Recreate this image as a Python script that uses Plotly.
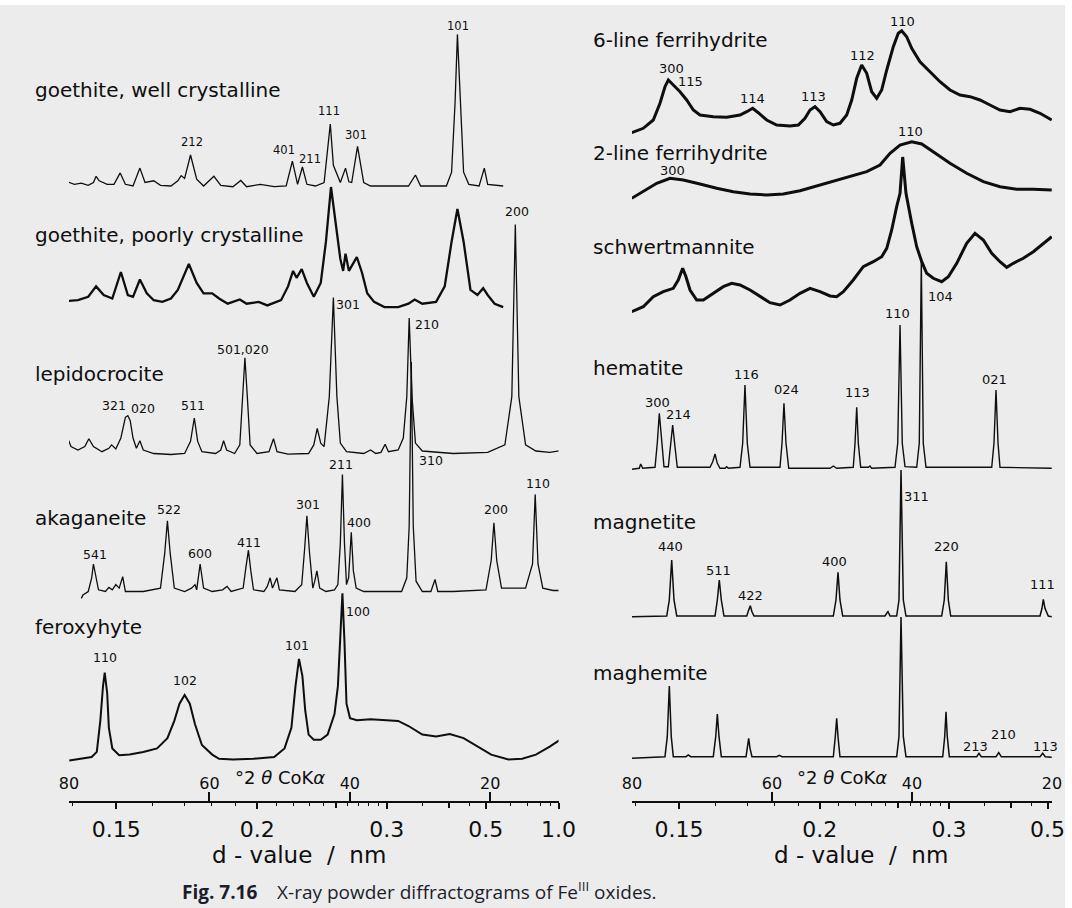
import math
import plotly.graph_objects as go

WAVELENGTH_NM = 0.179026  # Co K-alpha


def two_theta(d):
    return 2 * math.degrees(math.asin(WAVELENGTH_NM / (2 * d)))

# ---------------- data: 2theta (deg) and intensity above each baseline ----------------
goethite_well_tt = [80.21, 79.23, 78.25, 77.27, 76.52, 76.14, 75.70, 75.30, 74.56, 73.59, 72.71, 71.97, 70.88, 69.90, 69.17, 67.93, 66.97, 65.48, 64.50, 64.02, 63.53, 62.69, 61.81, 60.83, 59.36, 58.38, 56.65, 55.53, 54.70, 52.74, 50.77, 49.06, 48.18, 47.44, 46.75, 46.11, 44.89, 43.66, 42.78, 42.34, 41.94, 41.35, 40.61, 40.13, 39.73, 38.90, 38.02, 37.04, 31.64, 30.65, 29.91, 26.24, 25.50, 25.01, 24.67, 24.27, 23.79, 23.05, 21.58, 20.84, 20.36, 18.15]
goethite_well_int = [4.2, 1.7, 2.8, 0.7, 3.5, 9.7, 5.2, 4.2, 1.7, 1.7, 13.1, 1.7, 0, 17.9, 3.5, 5.2, 0.7, 0, 5.2, 10.4, 7.6, 31, 6.9, 0, 9.7, 0.7, -0.7, 5.5, -0.7, 1.7, -0.7, 0, 24.8, 1.7, 19, 1.7, 0, 3.5, 62, 20.7, 13.8, 3.5, 17.9, 4.2, 3.5, 39.6, 3.5, 0, 0, 11, 0, 0, 13.8, 82.7, 151.6, 82.7, 13.8, 1.7, 0, 17.9, 1.7, 0]

goethite_poor_tt = [80.20, 78.73, 77.26, 76.14, 75.06, 73.83, 72.61, 71.62, 70.88, 69.90, 68.92, 67.93, 66.71, 65.48, 64.50, 62.93, 61.81, 60.83, 59.60, 58.62, 57.39, 55.67, 54.70, 52.98, 51.75, 49.79, 48.80, 48.08, 47.58, 46.85, 46.11, 45.13, 44.14, 43.40, 42.68, 41.94, 41.35, 40.95, 40.61, 40.13, 39.73, 39.00, 38.26, 37.52, 36.54, 35.07, 33.11, 31.64, 30.76, 29.67, 27.71, 26.48, 25.50, 24.67, 23.79, 22.81, 21.82, 21.00, 20.36, 19.37, 18.15]
goethite_poor_int = [1.1, 1.8, 5.2, 15.6, 7, 3.5, 30, 7, 5.2, 22.5, 8.7, 1.8, 0.1, 3.5, 12.1, 38, 19, 8.7, 8.7, 3.5, -1.7, 2.5, -1.7, 0.1, -3.4, 1.8, 15.6, 31.1, 24.2, 32.8, 19, 5.2, 19, 60.3, 115, 77.6, 43.1, 31.1, 48.3, 31.1, 36.2, 44.8, 29.3, 8.7, 0.1, -5.1, -5.1, -1.7, 2.5, -1.7, 0.1, 15.6, 60.3, 93.1, 60.3, 12.1, 7, 13.8, 7, -1.7, -5.1]

lepidocrocite_tt = [80.20, 79.72, 78.73, 77.75, 77.17, 76.52, 75.30, 74.32, 73.93, 73.33, 72.61, 71.97, 71.62, 71.28, 70.88, 70.40, 69.90, 69.42, 67.93, 65.48, 63.53, 62.69, 62.15, 61.67, 61.07, 59.12, 58.38, 57.98, 57.54, 56.41, 55.67, 55.28, 54.94, 54.60, 54.20, 53.22, 51.51, 50.87, 50.37, 48.80, 45.87, 45.13, 44.64, 44.14, 43.66, 42.92, 42.34, 41.84, 41.35, 40.47, 38.02, 37.04, 36.30, 35.56, 34.97, 34.49, 33.11, 32.38, 31.88, 31.54, 31.14, 30.65, 29.67, 25.26, 20.36, 17.91, 16.92, 16.42, 15.92, 14.96, 13.49, 11.52, 10.06]
lepidocrocite_int = [14, 5.4, 2, 5.4, 13.3, 5.4, 0.3, 3.7, 7.1, 3, 14, 34.7, 36.4, 31.3, 14, 3.7, 11.3, 2, -1.5, -2.5, -1.5, 10.6, 34, 10.6, 0.3, -1.5, 2, 11.3, 2, -1.5, 7.1, 55.4, 94.3, 55.4, 7.1, -1.5, 0.3, 13.3, 0.3, -2.2, -1.5, 7.1, 23.7, 8.9, 5.4, 55.4, 154.5, 55.4, 8.9, 0.3, -1.5, 2, -1.5, -0.4, 7.8, 0.3, 2, 14, 55.4, 133.9, 55.4, 8.9, 1, -1.5, -0.4, 7.1, 55.4, 227.6, 55.4, 7.1, 1, -0.4, 1.3]

akaganeite_tt = [78.25, 78.01, 77.26, 76.77, 76.52, 76.18, 75.80, 74.81, 74.32, 73.83, 73.33, 72.85, 72.35, 71.97, 69.42, 66.97, 66.37, 65.98, 65.58, 65.00, 63.53, 62.55, 62.05, 61.81, 61.32, 60.83, 59.60, 58.13, 57.49, 56.91, 55.19, 54.80, 54.44, 54.10, 53.72, 52.24, 51.75, 51.35, 51.01, 50.38, 50.03, 47.82, 46.85, 46.45, 46.11, 45.77, 45.27, 44.99, 44.69, 44.29, 43.40, 42.18, 41.70, 41.35, 41.05, 40.76, 40.47, 40.17, 39.79, 39.49, 39.09, 38.02, 32.62, 31.88, 31.54, 31.24, 30.96, 30.56, 29.67, 28.45, 27.86, 27.46, 25.26, 20.60, 19.86, 19.47, 19.07, 18.39, 14.96, 13.97, 13.59, 13.19, 12.51, 11.03, 10.06]
akaganeite_int = [-6.9, -3.5, 0, 13.7, 27.5, 13.7, 1.7, 0, 4.1, 1.7, 6.9, 3.4, 14.8, 0, 0, 3.4, 37.8, 70.6, 37.8, 3.4, 0, 3.4, 6.9, 1.7, 27.5, 3.4, 0, 1.7, 5.1, 0, 3.4, 24.1, 41.3, 20.6, 1.7, 0, 5.1, 13.7, 3.4, 13.7, 1.7, 0, 6.9, 41.3, 75.7, 41.3, 3.4, 10.3, 20.6, 3.4, 0, 1.7, 6.9, 48.2, 117.1, 48.2, 6.9, 13.7, 59.2, 20.6, 3.4, 0, 0, 13.7, 65.4, 229.5, 65.4, 10.3, 0, 0, 12, 0, 0, 1.7, 31, 68.8, 31, 3.4, 3.4, 27.5, 97.1, 27.5, 3.4, 1, 1]

feroxyhyte_tt = [79.96, 78.25, 76.77, 76.04, 75.54, 75.16, 74.91, 74.56, 74.32, 73.83, 72.85, 71.38, 69.42, 67.45, 65.98, 65.00, 64.26, 63.53, 62.79, 62.05, 61.07, 59.60, 58.62, 56.65, 53.72, 50.77, 49.30, 48.32, 47.74, 47.24, 46.75, 46.35, 45.87, 45.13, 44.14, 43.16, 42.18, 41.70, 41.35, 41.05, 40.76, 40.47, 39.97, 39.00, 37.04, 35.07, 33.11, 31.64, 29.67, 27.71, 25.76, 23.79, 21.82, 19.86, 17.41, 15.44, 13.49, 11.52, 10.06]
feroxyhyte_int = [-1.5, 0.2, 2, 7.1, 38.1, 72.6, 86.3, 65.7, 31.2, 10.6, 3.7, 4.4, 7.1, 10.6, 20.9, 38.1, 55.3, 64, 55.3, 34.7, 14, 4.4, 0.2, -0.4, 0.2, 2, 10.6, 31.2, 72.6, 100.1, 82.9, 48.5, 24.4, 19.2, 19.2, 24.4, 45, 72.6, 117.3, 165.6, 117.3, 55.3, 40.9, 38.8, 39.8, 38.8, 38.1, 33, 24.4, 22.6, 25, 20.9, 12.3, 4.4, -0.4, 0.2, 4.4, 12.3, 19.2]

ferrihydrite6_tt = [80.04, 78.39, 76.96, 76.00, 75.29, 74.81, 74.10, 73.14, 72.19, 71.24, 70.29, 68.39, 66.47, 64.57, 63.61, 62.76, 61.96, 60.76, 59.33, 57.43, 56.24, 55.29, 54.57, 53.86, 53.14, 52.19, 51.24, 50.29, 49.33, 48.61, 47.90, 47.19, 46.47, 45.76, 45.04, 44.33, 43.61, 42.67, 41.96, 41.47, 40.76, 40.04, 38.86, 37.43, 36.00, 34.57, 33.14, 31.71, 30.29, 28.86, 27.43, 26.00, 24.57, 23.14, 21.71, 20.04]
ferrihydrite6_int = [0.3, 4.7, 13, 29.7, 46.3, 53, 48, 41.3, 33, 23, 18, 16.3, 15.7, 18, 21.3, 24.7, 20.3, 13, 8, 7, 8, 14.7, 23, 26.3, 21.3, 11.3, 8, 9.7, 18, 33, 54.7, 68, 59.7, 41.3, 34.7, 43, 63, 86.3, 99.7, 102.3, 96.3, 84.7, 71.3, 61.3, 51.3, 43, 38, 36.3, 33, 28, 23, 21.3, 24.7, 23.7, 19.7, 13]

ferrihydrite2_tt = [80.04, 78.39, 76.47, 74.57, 72.67, 70.29, 67.90, 65.53, 63.14, 60.76, 58.39, 56.00, 53.61, 51.24, 48.86, 46.47, 44.57, 43.14, 41.71, 40.04, 38.61, 36.96, 34.57, 32.19, 29.81, 27.43, 25.04, 22.67, 20.04]
ferrihydrite2_int = [-3.3, 3.3, 11.7, 16.7, 15, 11, 6.7, 3.3, 1, 0, 1, 4.3, 9, 13.3, 18.3, 23.3, 30, 41.7, 50, 53.3, 51, 43.3, 31.7, 21.7, 13.3, 8.3, 5.7, 5.7, 5]

schwertmannite_tt = [80.04, 78.39, 76.96, 75.53, 74.10, 73.39, 72.76, 72.29, 71.71, 70.76, 69.81, 68.39, 66.96, 65.76, 64.57, 63.14, 61.71, 60.29, 58.86, 57.43, 56.00, 54.57, 53.14, 51.71, 50.76, 49.81, 48.39, 46.96, 45.53, 44.33, 43.61, 42.90, 42.19, 41.71, 41.33, 40.86, 40.04, 39.33, 38.61, 37.90, 36.96, 35.76, 34.81, 33.61, 32.19, 31.00, 29.81, 28.61, 27.43, 26.47, 25.53, 24.10, 22.67, 21.24, 20.04]
schwertmannite_int = [-11.7, -6.7, 3.3, 8.3, 11.7, 20, 31.7, 23.3, 10, 0, 0, 6.7, 13.3, 16.7, 15, 10, 3.3, -2.7, -5, 0, 6.7, 11.7, 8.3, 4, 3.3, 8.3, 20, 33.3, 38.3, 43.3, 51.7, 70, 93.3, 106.7, 143, 106.7, 76.7, 53.3, 38.3, 26.7, 21.7, 18.3, 23.3, 36.7, 56.7, 66.7, 60, 46.7, 38.3, 32.7, 36.7, 41.7, 48.3, 56.7, 63.3]

hematite_tt = [80.04, 78.96, 78.76, 78.47, 76.71, 76.39, 76.10, 75.76, 75.43, 74.81, 74.47, 74.19, 73.86, 73.53, 68.86, 68.47, 68.14, 67.81, 67.43, 66.71, 66.47, 66.24, 64.57, 64.19, 63.86, 63.53, 63.14, 58.86, 58.57, 58.29, 58.00, 57.61, 51.71, 51.24, 50.76, 48.39, 48.14, 47.90, 47.67, 47.33, 46.24, 46.00, 45.76, 42.43, 42.04, 41.71, 41.39, 41.00, 39.33, 38.96, 38.67, 38.39, 38.00, 28.61, 28.29, 28.00, 27.71, 27.43, 20.04]
hematite_int = [-1.3, -0.3, 4, -0.3, 0.7, 24.7, 54.7, 24.7, 1.3, 1.3, 24.7, 43, 21.3, 0.7, 0.7, 6.3, 14, 4.7, -0.3, -0.3, 1.3, -0.3, 0.7, 24.7, 83, 24.7, 0.7, 0.7, 24.7, 64.7, 24.7, -0.3, -0.3, 2, -0.3, 0.7, 24.7, 60.7, 24.7, 0.7, 0.7, 2, -0.3, 0.7, 24.7, 143, 24.7, 1.3, 0.7, 24.7, 206, 24.7, 0.7, 0.7, 24.7, 78, 24.7, 0.7, -0.3]

magnetite_tt = [80.04, 75.04, 74.67, 74.33, 74.00, 73.61, 68.14, 67.81, 67.53, 67.24, 66.86, 63.61, 63.33, 63.10, 62.86, 62.57, 51.24, 50.86, 50.57, 50.29, 49.90, 43.86, 43.61, 43.43, 43.14, 42.19, 41.86, 41.57, 41.24, 40.86, 35.76, 35.39, 35.10, 34.81, 34.47, 21.71, 21.43, 21.24, 21.00, 20.53, 20.04]
magnetite_int = [-0.7, 0, 16, 56, 16, 0, 0, 16, 36, 16, 0, 0, 6, 10.3, 4.3, 0, 0, 16, 43.7, 16, 0, 0, 2.7, 4.3, 0, 0, 16, 146, 16, 0, 0, 16, 54.3, 16, 0, 0, 7.7, 16.7, 7.7, 0, -0.7]

maghemite_tt = [80.04, 75.29, 74.96, 74.67, 74.39, 74.10, 72.29, 71.96, 71.61, 68.39, 68.04, 67.81, 67.57, 67.24, 63.71, 63.47, 63.33, 63.14, 62.86, 59.33, 58.96, 58.57, 51.24, 50.96, 50.76, 50.57, 50.29, 42.19, 41.86, 41.57, 41.24, 40.86, 35.61, 35.33, 35.14, 34.96, 34.67, 30.76, 30.43, 30.10, 28.00, 27.61, 27.24, 21.71, 21.33, 20.96, 20.04]
maghemite_int = [-1.3, 0.3, 20.3, 71, 20.3, 0.3, 0.3, 2, 0.3, 0.3, 20.3, 43, 20.3, 0.3, 0.3, 10.3, 18.7, 8.7, 0.3, 0.3, 1.7, 0.3, 0.3, 20.3, 38.7, 20.3, 0.3, 0.3, 20.3, 140, 20.3, 0.3, 0.3, 20.3, 45.3, 20.3, 0.3, 0.3, 3.7, 0.3, 0.3, 4.3, 0.3, 0.3, 3.7, 0.3, -0.3]

# peak index labels: (text, 2theta, height above the pattern baseline)
goethite_well_hkl = [("101", 24.59, 160), ("111", 42.96, 75), ("301", 39.12, 51), ("401", 49.37, 36), ("211", 45.73, 27), ("212", 62.55, 44)]
lepidocrocite_hkl = [("200", 16.18, 240.6), ("301", 40.23, 147.3), ("210", 28.95, 127.7), ("501,020", 55.28, 103), ("511", 62.29, 46.4), ("321", 73.59, 46.8), ("020", 69.42, 43.3)]
akaganeite_hkl = [("541", 76.28, 36.8), ("522", 65.73, 81.6), ("600", 61.32, 37.8), ("411", 54.30, 49.5), ("301", 45.95, 86.8), ("211", 41.30, 127.4), ("400", 38.75, 69.5), ("310", 28.45, 131.5), ("200", 19.13, 81.6), ("110", 13.23, 108.5)]
feroxyhyte_hkl = [("110", 74.81, 101.8), ("102", 63.53, 78.8), ("101", 47.58, 113.9), ("100", 38.90, 147.6)]
ferrihydrite6_hkl = [("110", 41.33, 111.3), ("112", 47.04, 78), ("300", 74.33, 64.7), ("115", 71.71, 51.3), ("114", 62.76, 34.7), ("113", 54.10, 36.3)]
ferrihydrite2_hkl = [("110", 40.19, 63.3), ("300", 74.19, 25)]
hematite_hkl = [("300", 76.39, 65.7), ("214", 73.29, 54), ("116", 63.61, 93.7), ("024", 58.00, 78.7), ("113", 47.81, 75.3), ("110", 42.10, 154.7), ("104", 36.00, 172), ("021", 28.24, 88.7)]
magnetite_hkl = [("311", 39.33, 120), ("440", 74.47, 70), ("511", 67.67, 46), ("422", 63.04, 21), ("400", 51.10, 54.3), ("220", 35.14, 69.3), ("111", 21.33, 31.7)]
maghemite_hkl = [("213", 31.00, 11), ("210", 26.96, 22.7), ("113", 21.00, 11)]

# axis tick values
two_theta_ticks = [80, 60, 40, 20]
d_labelled = [0.15, 0.2, 0.3, 0.5, 1.0]
d_labelled_text = ["0.15", "0.2", "0.3", "0.5", "1.0"]
d_unlabelled = [0.25, 0.4]
d_minor = [0.14, 0.16, 0.17, 0.18, 0.19, 0.21, 0.22, 0.23, 0.24, 0.26, 0.27, 0.28, 0.29, 0.35, 0.45, 0.6, 0.7, 0.8, 0.9]

# ---------------- layout parameters ----------------
W, H = 1072, 908
PLOT_BOTTOM = 801          # pixel row of the axis line
INK = "#0e0e0e"
FONT = "DejaVu Sans"

patterns = [
    # name, tt, int, axis, baseline, line width, label y, hkl, label size
    ("goethite, well crystalline", goethite_well_tt, goethite_well_int, "x", 615, 1.3, 711, goethite_well_hkl, 11.5),
    ("goethite, poorly crystalline", goethite_poor_tt, goethite_poor_int, "x", 499, 2.3, 566, [], 12),
    ("lepidocrocite", lepidocrocite_tt, lepidocrocite_int, "x", 349, 1.3, 427, lepidocrocite_hkl, 12.5),
    ("akaganeite", akaganeite_tt, akaganeite_int, "x", 209.5, 1.3, 283.5, akaganeite_hkl, 12.5),
    ("feroxyhyte", feroxyhyte_tt, feroxyhyte_int, "x", 42, 2.0, 174, feroxyhyte_hkl, 12.5),
    ("6-line ferrihydrite", ferrihydrite6_tt, ferrihydrite6_int, "x2", 668, 3.0, 761, ferrihydrite6_hkl, 13),
    ("2-line ferrihydrite", ferrihydrite2_tt, ferrihydrite2_int, "x2", 606, 3.0, 648.3, ferrihydrite2_hkl, 13),
    ("schwertmannite", schwertmannite_tt, schwertmannite_int, "x2", 501, 3.0, 553.7, [], 13),
    ("hematite", hematite_tt, hematite_int, "x2", 333, 1.4, 432.7, hematite_hkl, 13),
    ("magnetite", magnetite_tt, magnetite_int, "x2", 185, 1.5, 279.3, magnetite_hkl, 13),
    ("maghemite", maghemite_tt, maghemite_int, "x2", 44, 1.5, 127.7, maghemite_hkl, 13),
]


def paper_y(py):
    return (PLOT_BOTTOM - py) / PLOT_BOTTOM


fig = go.Figure()
annotations = []
for name, tt, inten, xa, base, lw, label_y, hkl, fsize in patterns:
    assert len(tt) == len(inten), name
    fig.add_trace(go.Scatter(
        x=tt, y=[v + base for v in inten], mode="lines", xaxis=xa, yaxis="y",
        line=dict(color=INK, width=lw, shape="linear"), hoverinfo="skip", name=name))
    label_x = 33 / W if xa == "x" else 591 / W
    annotations.append(dict(text=name, x=label_x, xref="paper", xanchor="left", y=label_y, yref="y",
                            yanchor="middle", showarrow=False, font=dict(family=FONT, size=20, color=INK)))
    for text, pos, h in hkl:
        annotations.append(dict(text=text, x=pos, xref=xa, y=base + h, yref="y", showarrow=False,
                                xanchor="center", yanchor="middle",
                                font=dict(family=FONT, size=fsize, color=INK)))

# empty traces so that the overlaid tick-only axes get drawn
for xa in ("x3", "x4", "x5", "x6"):
    fig.add_trace(go.Scatter(x=[None], y=[None], xaxis=xa, yaxis="y", mode="lines",
                             hoverinfo="skip", showlegend=False))

# axis titles and caption
for cx in (280, 842):
    annotations.append(dict(text="°2 <i>θ</i> CoK<i>α</i>", x=cx / W, xref="paper", y=paper_y(777),
                            yref="paper", xanchor="center", yanchor="middle", showarrow=False,
                            font=dict(family=FONT, size=18, color=INK)))
for cx in (299, 861):
    annotations.append(dict(text="d - value \u00a0/\u00a0 nm", x=cx / W, xref="paper", y=paper_y(855),
                            yref="paper", xanchor="center", yanchor="middle", showarrow=False,
                            font=dict(family=FONT, size=23, color=INK)))
annotations.append(dict(
    text="<b>Fig. 7.16</b>\u00a0\u00a0\u00a0 X-ray powder diffractograms of Fe<sup>III</sup> oxides.",
    x=180 / W, xref="paper", xanchor="left", y=paper_y(891), yref="paper", yanchor="middle",
    showarrow=False, font=dict(family="Open Sans", size=19, color="#1c1d2b")))


def d_axis(domain, rng):
    return dict(domain=domain, range=rng, anchor="y", automargin=False, showline=True, linewidth=2,
                linecolor=INK, showgrid=False, zeroline=False, tickmode="array",
                tickvals=[two_theta(d) for d in d_labelled], ticktext=d_labelled_text,
                ticks="outside", ticklen=6, tickwidth=1.6, tickcolor=INK, ticklabelstandoff=2,
                tickfont=dict(family=FONT, size=22, color=INK),
                minor=dict(tickmode="array", tickvals=[two_theta(d) for d in d_minor], ticks="outside",
                           ticklen=3, tickwidth=1.3, tickcolor=INK, showgrid=False))


def d_mid_axis(over, rng):
    return dict(overlaying=over, range=rng, anchor="y", side="bottom", automargin=False, showline=False,
                showgrid=False, zeroline=False, tickmode="array",
                tickvals=[two_theta(d) for d in d_unlabelled], showticklabels=False,
                ticks="outside", ticklen=6, tickwidth=1.6, tickcolor=INK)


def tt_axis(over, rng):
    return dict(overlaying=over, range=rng, anchor="y", side="bottom", automargin=False, showline=False,
                showgrid=False, zeroline=False, tickmode="array", tickvals=two_theta_ticks,
                ticktext=[str(v) for v in two_theta_ticks], ticks="inside", ticklen=9, tickwidth=1.6,
                tickcolor=INK, ticklabelposition="inside", ticklabeloverflow="allow",
                tickfont=dict(family=FONT, size=16, color=INK))


left_range = [80, two_theta(1.0)]
right_range = [80, 20]
fig.update_layout(
    template="none",
    width=W, height=H, autosize=False, margin=dict(l=0, r=0, t=0, b=H - PLOT_BOTTOM, pad=0),
    paper_bgcolor="#ececec", plot_bgcolor="rgba(0,0,0,0)", showlegend=False,
    xaxis=d_axis([69 / W, 558.5 / W], left_range),
    xaxis2=d_axis([632 / W, 1052 / W], right_range),
    xaxis3=tt_axis("x", left_range),
    xaxis4=tt_axis("x2", right_range),
    xaxis5=d_mid_axis("x", left_range),
    xaxis6=d_mid_axis("x2", right_range),
    yaxis=dict(domain=[0, 1], range=[0, PLOT_BOTTOM], visible=False, fixedrange=True, automargin=False),
    annotations=annotations,
    shapes=[
        dict(type="rect", xref="paper", yref="paper", x0=0, x1=1, y0=1 - 5 / PLOT_BOTTOM, y1=1,
             fillcolor="white", line=dict(width=0), layer="below"),
        dict(type="rect", xref="paper", yref="paper", x0=1065 / W, x1=1, y0=-(H - PLOT_BOTTOM) / PLOT_BOTTOM,
             y1=1, fillcolor="white", line=dict(width=0), layer="below"),
    ],
)

fig.write_html(
    "out.html",
    config={"responsive": False, "displayModeBar": False},
    post_script="document.documentElement.style.overflow='hidden';"
                "document.body.style.overflow='hidden';document.body.style.margin='0';",
)
